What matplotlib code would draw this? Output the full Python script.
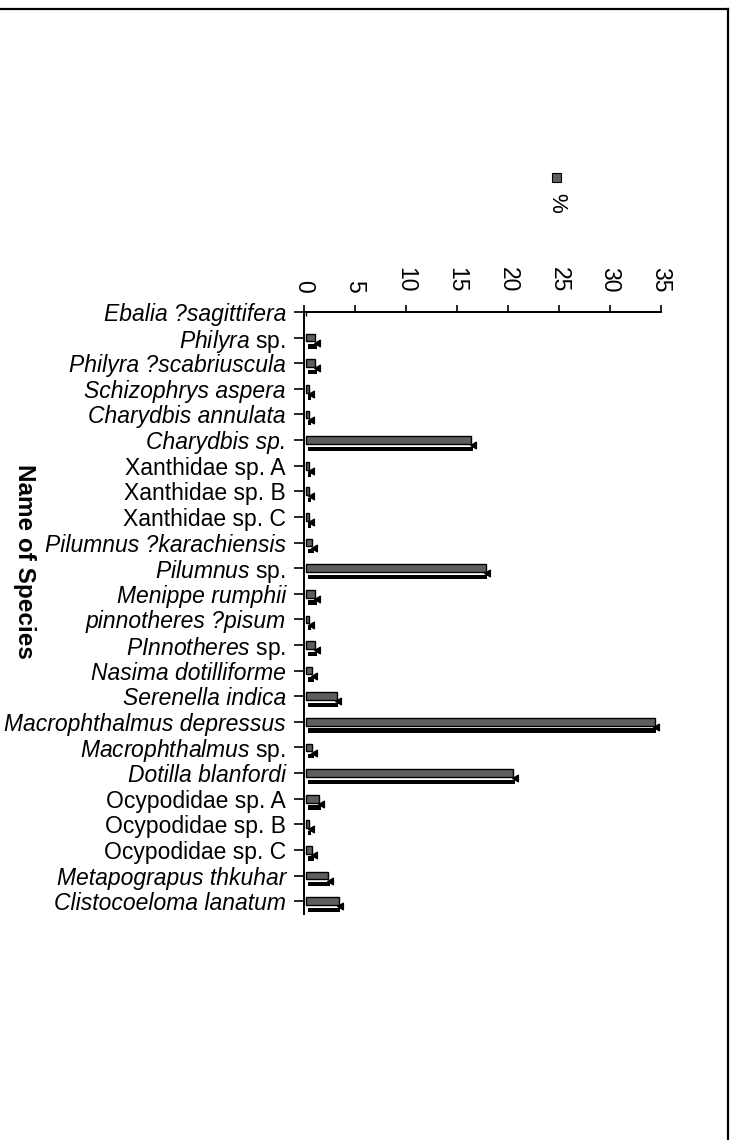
import matplotlib
matplotlib.use('Agg')
import matplotlib.pyplot as plt
from matplotlib.lines import Line2D
from matplotlib.patches import Rectangle
import numpy as np

plt.rcParams['font.family'] = ['Liberation Sans', 'DejaVu Sans']
plt.rcParams['mathtext.fontset'] = 'custom'
plt.rcParams['mathtext.rm'] = 'Liberation Sans'
plt.rcParams['mathtext.it'] = 'Liberation Sans:italic'

species = ['Ebalia ?sagittifera', 'Philyra sp.', 'Philyra ?scabriuscula', 'Schizophrys aspera',
           'Charydbis annulata', 'Charydbis sp.', 'Xanthidae sp. A', 'Xanthidae sp. B',
           'Xanthidae sp. C', 'Pilumnus ?karachiensis', 'Pilumnus sp.', 'Menippe rumphii',
           'pinnotheres ?pisum', 'PInnotheres sp.', 'Nasima dotilliforme', 'Serenella indica',
           'Macrophthalmus depressus', 'Macrophthalmus sp.', 'Dotilla blanfordi',
           'Ocypodidae sp. A', 'Ocypodidae sp. B', 'Ocypodidae sp. C',
           'Metapograpus thkuhar', 'Clistocoeloma lanatum']
percent = [0.0, 0.9, 0.9, 0.3, 0.3, 16.2, 0.3, 0.3, 0.3, 0.6, 17.6, 0.9,
           0.3, 0.9, 0.6, 3.0, 34.2, 0.6, 20.3, 1.3, 0.3, 0.6, 2.2, 3.2]

# family names are set upright, "sp." upright after an italic genus
roman_names = ['Xanthidae sp. A', 'Xanthidae sp. B', 'Xanthidae sp. C',
               'Ocypodidae sp. A', 'Ocypodidae sp. B', 'Ocypodidae sp. C']
mixed_names = ['Philyra sp.', 'Pilumnus sp.', 'PInnotheres sp.', 'Macrophthalmus sp.']

x_ticks = [0, 5, 10, 15, 20, 25, 30, 35]


def fmt_label(name):
    if name in mixed_names:
        genus = name.replace(' sp.', '')
        return r'$\mathit{' + genus + '}$ sp.'
    return name


fig = plt.figure(figsize=(7.39, 11.4), dpi=100)
ax = fig.add_axes([304 / 739, 1 - 914 / 1140, (661 - 304) / 739, (914 - 312) / 1140])

y = np.arange(len(species))
vals = np.array(percent)
shown = vals > 0

# 3-d look: dark under-shadow offset slightly right, grey front face on top
ax.barh(y + 0.34, vals, left=0.35, height=0.17, color='black', linewidth=0)
ax.barh(y, vals, left=0.2, height=0.3, color='#5e5e5e', edgecolor='black', linewidth=1.0)
ax.scatter(vals[shown] + 0.45, y[shown] + 0.2, marker=(3, 0, -30), s=30, color='black', zorder=3)

ax.set_xlim(0, 35)
ax.set_ylim(23.5, 0)
ax.xaxis.tick_top()
ax.set_xticks(x_ticks)
ax.set_xticklabels([str(t) for t in x_ticks], rotation=-90, fontsize=16.5, va='bottom')
ax.tick_params(axis='x', length=5, width=1.2, pad=9, direction='out')
ax.set_yticks(y)
ax.set_yticklabels([fmt_label(s) for s in species], fontsize=16.5)
ax.tick_params(axis='y', length=7, width=1.2, pad=6, direction='out')
for name, lab in zip(species, ax.get_yticklabels()):
    if name not in roman_names and name not in mixed_names:
        lab.set_fontstyle('italic')

for side in ['right', 'bottom']:
    ax.spines[side].set_visible(False)
for side in ['left', 'top']:
    ax.spines[side].set_linewidth(1.4)

fig.text(24 / 739, 1 - 561 / 1140, 'Name of Species', rotation=-90, fontsize=17.5,
         fontweight='bold', ha='center', va='center')

# legend entry, turned like the rest of the chart
fig.add_artist(Rectangle((552 / 739, 1 - 182 / 1140), 9 / 739, 9 / 1140,
                         transform=fig.transFigure, facecolor='#5e5e5e', edgecolor='black', lw=0.8))
fig.text(557 / 739, 1 - 203 / 1140, '%', rotation=-90, fontsize=16, ha='center', va='center')

# page frame
fig.add_artist(Line2D([0, 728 / 739], [1 - 9 / 1140, 1 - 9 / 1140], color='black', lw=1.6,
                      transform=fig.transFigure))
fig.add_artist(Line2D([728 / 739, 728 / 739], [0, 1 - 9 / 1140], color='black', lw=1.6,
                      transform=fig.transFigure))

fig.savefig('out.png', dpi=100)
